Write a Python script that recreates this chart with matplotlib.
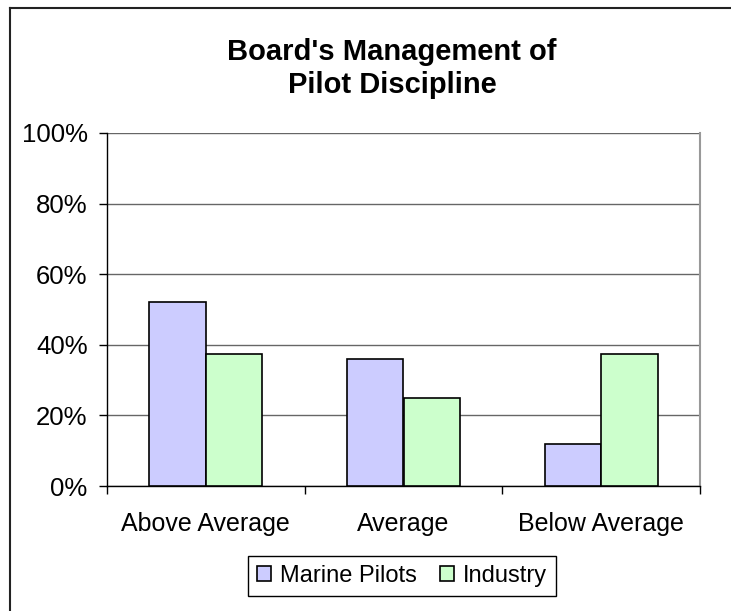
import numpy as np
import matplotlib.pyplot as plt
from matplotlib.lines import Line2D

categories = ["Above Average", "Average", "Below Average"]
marine_pilots = [52, 36, 12]
industry = [37.5, 25, 37.5]
series_names = ["Marine Pilots", "Industry"]
y_ticks = [0, 20, 40, 60, 80, 100]

plt.rcParams['font.family'] = ['Liberation Sans', 'DejaVu Sans']

W, H = 731, 611
fig = plt.figure(figsize=(W / 100, H / 100), dpi=100)
ax = fig.add_axes([107 / W, 1 - 486 / H, (700 - 107) / W, (486 - 133) / H])

x = np.arange(len(categories))
w = 1 / 3.5
ax.bar(x - w / 2, marine_pilots, w, color="#CCCCFF", edgecolor="black",
       linewidth=1.2, label=series_names[0], zorder=3)
ax.bar(x + w / 2, industry, w, color="#CCFFCC", edgecolor="black",
       linewidth=1.2, label=series_names[1], zorder=3)

ax.set_xlim(-0.5, len(categories) - 0.5)
ax.set_ylim(0, 100)
ax.set_yticks(y_ticks)
ax.set_yticklabels([f"{t}%" for t in y_ticks], fontsize=18.5)
ax.set_xticks(x)
ax.set_xticklabels(categories, fontsize=18)
ax.set_xticks(np.arange(len(categories) + 1) - 0.5, minor=True)
ax.tick_params(axis="x", which="major", length=0, pad=19)
ax.tick_params(axis="x", which="minor", length=6, width=1, direction="out")
ax.tick_params(axis="y", length=6, width=1, direction="out", pad=8)

ax.grid(axis="y", color="#666666", linewidth=1, zorder=0)
ax.spines["top"].set_visible(False)
ax.spines["right"].set_color("#999999")
ax.spines["right"].set_linewidth(1.5)
ax.spines["left"].set_linewidth(1)
ax.spines["bottom"].set_linewidth(1)

fig.text(392 / W, 1 - 60 / H, "Board's Management of", ha="center",
         va="baseline", fontsize=21, fontweight="bold")
fig.text(392 / W, 1 - 93 / H, "Pilot Discipline", ha="center",
         va="baseline", fontsize=21, fontweight="bold")

leg = fig.legend(loc="center", bbox_to_anchor=(402 / W, 1 - 576 / H), ncol=2,
                 fontsize=17, fancybox=False, edgecolor="black",
                 handlelength=0.6, handleheight=0.6, handletextpad=0.35,
                 columnspacing=1.0, borderpad=0.4, framealpha=1)
leg.get_frame().set_linewidth(1)

# chart area border (only top and left are inside the picture)
fig.add_artist(Line2D([10 / W, 10 / W], [0, 1 - 8 / H], color="#222222",
                      linewidth=1.5, transform=fig.transFigure))
fig.add_artist(Line2D([10 / W, 1], [1 - 8 / H, 1 - 8 / H], color="#222222",
                      linewidth=1.5, transform=fig.transFigure))

fig.savefig("out.png", dpi=100)
